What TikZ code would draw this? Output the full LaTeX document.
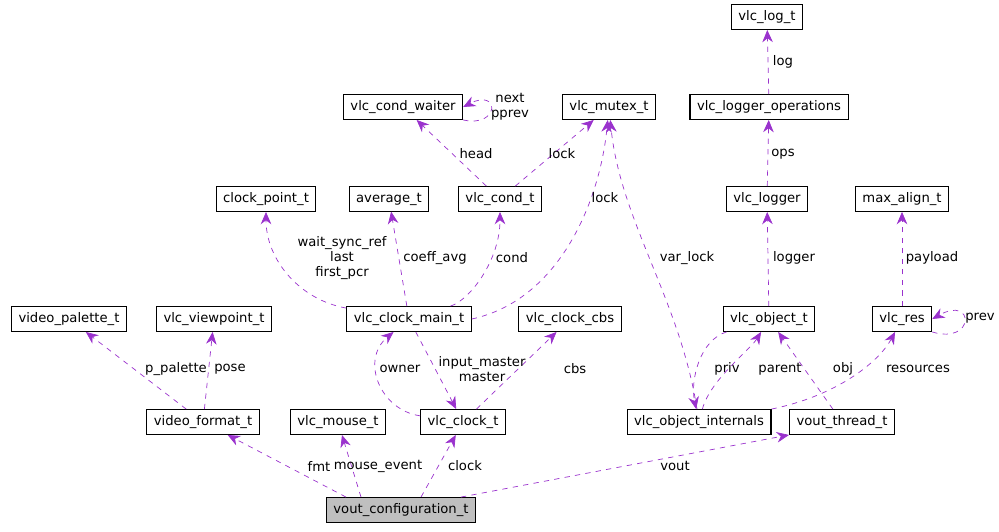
\documentclass[tikz,border=0pt]{standalone}
\usepackage{fontspec}
\setmainfont{DejaVu Sans}
\usetikzlibrary{arrows.meta, positioning, calc}
\definecolor{edgepurple}{HTML}{9A32CD}
\begin{document}
\begin{tikzpicture}[x=0.02cm, y=-0.02cm, font=\fontsize{7.5}{8.5}\selectfont]
\tikzstyle{cls} = [rectangle, draw, semithick, fill=white, minimum height=0.46cm, inner xsep=4pt]
\tikzstyle{use} = [draw=edgepurple, dashed, -{Stealth[length=7pt, width=6pt]}, thin]
\tikzstyle{lbl} = [align=center, inner sep=1pt]

\useasboundingbox (0,0) rectangle (999,531);

\node (logt) [cls] at (767,17) {vlc\_log\_t};
\node (logops) [cls] at (769,107) {vlc\_logger\_operations};
\node (waiter) [cls] at (403,107) {vlc\_cond\_waiter};
\node (mutex) [cls] at (609,107) {vlc\_mutex\_t};
\node (cpoint) [cls] at (266,199) {clock\_point\_t};
\node (avg) [cls] at (389,199) {average\_t};
\node (cond) [cls] at (500,199) {vlc\_cond\_t};
\node (logger) [cls] at (767,199) {vlc\_logger};
\node (maxal) [cls] at (902,199) {max\_align\_t};
\node (palette) [cls] at (69,319) {video\_palette\_t};
\node (viewpt) [cls] at (214,319) {vlc\_viewpoint\_t};
\node (cmain) [cls] at (409,319) {vlc\_clock\_main\_t};
\node (cbs) [cls] at (570,319) {vlc\_clock\_cbs};
\node (obj) [cls] at (769,319) {vlc\_object\_t};
\node (res) [cls] at (902,319) {vlc\_res};
\node (vfmt) [cls] at (203,422) {video\_format\_t};
\node (mouse) [cls] at (338,422) {vlc\_mouse\_t};
\node (clock) [cls] at (463,422) {vlc\_clock\_t};
\node (objint) [cls] at (699,422) {vlc\_object\_internals};
\node (vthread) [cls] at (842,422) {vout\_thread\_t};
\node (vconf) [cls, fill=black!25] at (401,510) {vout\_configuration\_t};

% connectors
\draw [use] (logops) -- (logt);
\draw [use] (logger) -- (logops);
\draw [use] (obj) -- (logger);
\draw [use] (res) -- (maxal);
\draw [use] (res.south east) .. controls (975,345) and (975,295) .. (res.east);
\draw [use] (waiter.south east) .. controls (500,128) and (500,88) .. (waiter.east);
\draw [use] (cond) -- (waiter);
\draw [use] (cond) -- (mutex);
\draw [use] (cmain.east) .. controls (560,300) and (600,200) .. (mutex);
\draw [use] (cmain) .. controls (300,300) and (266,260) .. (cpoint);
\draw [use] (cmain) -- (avg);
\draw [use] (cmain) .. controls (470,300) and (500,260) .. (cond);
\draw [use] (objint) .. controls (680,300) and (620,220) .. (mutex);
\draw [use] (objint) .. controls (710,380) and (750,350) .. (obj);
\draw [use] (obj) .. controls (700,340) and (690,380) .. (objint);
\draw [use] (vthread) -- (obj);
\draw [use] (objint.north east) .. controls (840,395) and (880,360) .. (res);
\draw [use] (vfmt) -- (palette);
\draw [use] (vfmt) -- (viewpt);
\draw [use] (clock) .. controls (380,410) and (360,360) .. (cmain);
\draw [use] (cmain) -- (clock);
\draw [use] (clock) -- (cbs);
\draw [use] ($(vconf.north)+(-55,0)$) -- (vfmt);
\draw [use] ($(vconf.north)+(-40,0)$) -- (mouse);
\draw [use] ($(vconf.north)+(20,0)$) -- (clock);
\draw [use] ($(vconf.north)+(60,0)$) -- (vthread.south west);

% labels
\node (l1) [lbl] at (783,62) {log};
\node (l2) [lbl] at (783,154) {ops};
\node (l3) [lbl] at (794,258) {logger};
\node (l4) [lbl] at (932,258) {payload};
\node (l5) [lbl] at (980,318) {prev};
\node (l6) [lbl] at (510,107) {next\\pprev};
\node (l7) [lbl] at (476,154) {head};
\node (l8) [lbl] at (562,154) {lock};
\node (l9) [lbl] at (605,198) {lock};
\node (l10) [lbl] at (342,258) {wait\_sync\_ref\\last\\first\_pcr};
\node (l11) [lbl] at (435,258) {coeff\_avg};
\node (l12) [lbl] at (512,258) {cond};
\node (l13) [lbl] at (687,258) {var\_lock};
\node (l14) [lbl] at (727,369) {priv};
\node (l15) [lbl] at (780,369) {parent};
\node (l16) [lbl] at (843,369) {obj};
\node (l17) [lbl] at (918,369) {resources};
\node (l18) [lbl] at (176,369) {p\_palette};
\node (l19) [lbl] at (230,369) {pose};
\node (l20) [lbl] at (400,369) {owner};
\node (l21) [lbl] at (482,369) {input\_master\\master};
\node (l22) [lbl] at (575,369) {cbs};
\node (l23) [lbl] at (319,466) {fmt};
\node (l24) [lbl] at (378,466) {mouse\_event};
\node (l25) [lbl] at (465,466) {clock};
\node (l26) [lbl] at (675,466) {vout};
\end{tikzpicture}
\end{document}
